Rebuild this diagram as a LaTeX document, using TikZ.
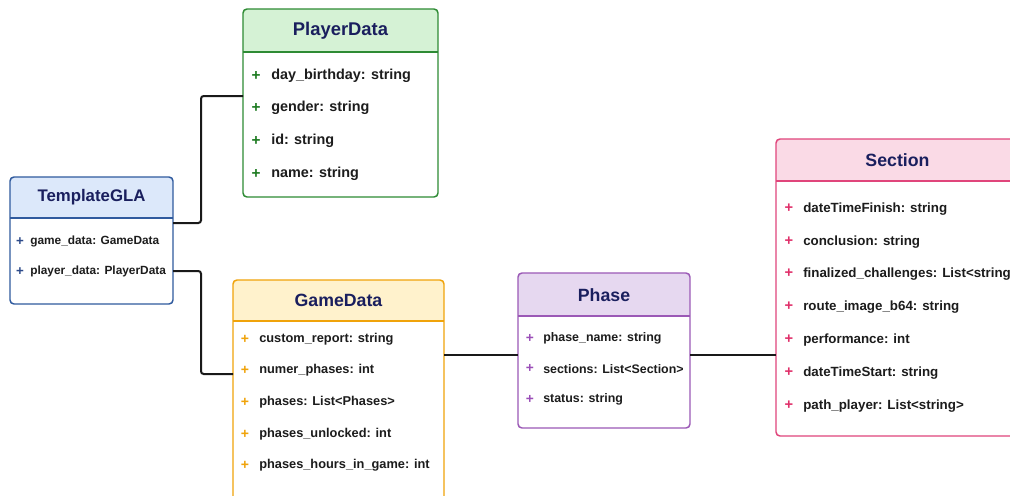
\documentclass[tikz,border=0pt]{standalone}
\usepackage{fontspec}
\setmainfont{Liberation Sans}
\definecolor{tgline}{HTML}{2F5A9E}\definecolor{tgfill}{HTML}{DCE8FA}\definecolor{tgplus}{HTML}{2C4A8A}
\definecolor{pdline}{HTML}{2E8B34}\definecolor{pdfill}{HTML}{D5F2D5}\definecolor{pdplus}{HTML}{1E7B22}
\definecolor{gdline}{HTML}{F0A30A}\definecolor{gdfill}{HTML}{FFF2CC}\definecolor{gdplus}{HTML}{F0A30A}
\definecolor{phline}{HTML}{9B59B6}\definecolor{phfill}{HTML}{E6D8F0}\definecolor{phplus}{HTML}{9B4FB8}
\definecolor{seline}{HTML}{E0457B}\definecolor{sefill}{HTML}{FADAE6}\definecolor{seplus}{HTML}{E0306A}
\definecolor{titlecol}{HTML}{1A1F5E}\definecolor{rowcol}{HTML}{1C1C1C}
\tikzset{
  holder/.style={inner sep=0pt, outer sep=0pt, anchor=north west},
  border/.style={line width=1.1pt, rounded corners=3pt},
  sep/.style={line width=1.1pt},
  title/.style={font=\bfseries\fontsize{#1}{16}\selectfont, text=titlecol, inner sep=0pt},
  title/.default=13.3,
  row/.style={font=\bfseries\fontsize{#1}{13}\selectfont, text=rowcol, anchor=west, inner sep=0pt, yshift=-1.2pt},
  row/.default=9.75,
  plus/.style={font=\bfseries\fontsize{#1}{13}\selectfont, inner sep=0pt, yshift=-1.2pt},
  plus/.default=9.75,
  conn/.style={line width=1.5pt, rounded corners=2pt, black!90},
}
\begin{document}
\begin{tikzpicture}[x=0.75pt,y=-0.75pt]
\useasboundingbox (0,0) rectangle (1010,496);
\clip (0,0) rectangle (1010,496);
\fill[white] (0,0) rectangle (1010,496);

% ---------- TemplateGLA
\node[holder, minimum width={163*0.75pt}, minimum height={127*0.75pt}] (tg) at (10,177) {};
\begin{scope}\clip[rounded corners=3pt] (tg.north west) rectangle (tg.south east);
\fill[white] (tg.north west) rectangle (tg.south east);
\fill[tgfill] (tg.north west) rectangle (173,218);\end{scope}
\draw[sep, tgline] (tg.west |- 0,218) -- (tg.east |- 0,218);
\draw[border, tgline] (tg.north west) rectangle (tg.south east);
\node[title=12.6] (tgt) at (91.5,197) {TemplateGLA};
\node[plus=10, text=tgplus] (tgp1) at (20,240) {+};
\node[row=8.9] (tgr1) at (30,240) {game\_data: GameData};
\node[plus=10, text=tgplus] (tgp2) at (20,270) {+};
\node[row=8.9] (tgr2) at (30,270) {player\_data: PlayerData};

% ---------- PlayerData
\node[holder, minimum width={195*0.75pt}, minimum height={188*0.75pt}] (pd) at (243,9) {};
\begin{scope}\clip[rounded corners=3pt] (pd.north west) rectangle (pd.south east);
\fill[white] (pd.north west) rectangle (pd.south east);
\fill[pdfill] (pd.north west) rectangle (438,52);\end{scope}
\draw[sep, pdline] (pd.west |- 0,52) -- (pd.east |- 0,52);
\draw[border, pdline] (pd.north west) rectangle (pd.south east);
\node[title=13.8] (pdt) at (340.5,31) {PlayerData};
\node[plus=11.5, text=pdplus] (pdp1) at (256,74) {+};
\node[row=10.8] (pdr1) at (271,74) {day\_birthday: string};
\node[plus=11.5, text=pdplus] (pdp2) at (256,106) {+};
\node[row=10.8] (pdr2) at (271,106) {gender: string};
\node[plus=11.5, text=pdplus] (pdp3) at (256,139) {+};
\node[row=10.8] (pdr3) at (271,139) {id: string};
\node[plus=11.5, text=pdplus] (pdp4) at (256,172) {+};
\node[row=10.8] (pdr4) at (271,172) {name: string};

% ---------- GameData
\node[holder, minimum width={211*0.75pt}, minimum height={240*0.75pt}] (gd) at (233,280) {};
\begin{scope}\clip[rounded corners=3pt] (gd.north west) rectangle (gd.south east);
\fill[white] (gd.north west) rectangle (gd.south east);
\fill[gdfill] (gd.north west) rectangle (444,321);\end{scope}
\draw[sep, gdline] (gd.west |- 0,321) -- (gd.east |- 0,321);
\draw[border, gdline] (gd.north west) rectangle (gd.south east);
\node[title] (gdt) at (338.5,300) {GameData};
\node[plus=10.5, text=gdplus] (gdp1) at (245,338) {+};
\node[row=9.6] (gdr1) at (259,338) {custom\_report: string};
\node[plus=10.5, text=gdplus] (gdp2) at (245,369) {+};
\node[row=9.6] (gdr2) at (259,369) {numer\_phases: int};
\node[plus=10.5, text=gdplus] (gdp3) at (245,401) {+};
\node[row=9.6] (gdr3) at (259,401) {phases: List<Phases>};
\node[plus=10.5, text=gdplus] (gdp4) at (245,433) {+};
\node[row=9.6] (gdr4) at (259,433) {phases\_unlocked: int};
\node[plus=10.5, text=gdplus] (gdp5) at (245,464) {+};
\node[row=9.6] (gdr5) at (259,464) {phases\_hours\_in\_game: int};

% ---------- Phase
\node[holder, minimum width={172*0.75pt}, minimum height={155*0.75pt}] (ph) at (518,273) {};
\begin{scope}\clip[rounded corners=3pt] (ph.north west) rectangle (ph.south east);
\fill[white] (ph.north west) rectangle (ph.south east);
\fill[phfill] (ph.north west) rectangle (690,316);\end{scope}
\draw[sep, phline] (ph.west |- 0,316) -- (ph.east |- 0,316);
\draw[border, phline] (ph.north west) rectangle (ph.south east);
\node[title] (pht) at (604,295) {Phase};
\node[plus=10.3, text=phplus] (php1) at (530,337) {+};
\node[row=9.3] (phr1) at (543,337) {phase\_name: string};
\node[plus=10.3, text=phplus] (php2) at (530,367) {+};
\node[row=9.3] (phr2) at (543,367) {sections: List<Section>};
\node[plus=10.3, text=phplus] (php3) at (530,398) {+};
\node[row=9.3] (phr3) at (543,398) {status: string};

% ---------- Section
\node[holder, minimum width={243*0.75pt}, minimum height={297*0.75pt}] (se) at (776,139) {};
\begin{scope}\clip[rounded corners=3pt] (se.north west) rectangle (se.south east);
\fill[white] (se.north west) rectangle (se.south east);
\fill[sefill] (se.north west) rectangle (1019,181);\end{scope}
\draw[sep, seline] (se.west |- 0,181) -- (se.east |- 0,181);
\draw[border, seline] (se.north west) rectangle (se.south east);
\node[title] (set) at (897.5,160) {Section};
\node[plus=11, text=seplus] (sep1) at (789,207) {+};
\node[row=10] (ser1) at (803,207) {dateTimeFinish: string};
\node[plus=11, text=seplus] (sep2) at (789,240) {+};
\node[row=10] (ser2) at (803,240) {conclusion: string};
\node[plus=11, text=seplus] (sep3) at (789,272) {+};
\node[row=10] (ser3) at (803,272) {finalized\_challenges: List<string>};
\node[plus=11, text=seplus] (sep4) at (789,305) {+};
\node[row=10] (ser4) at (803,305) {route\_image\_b64: string};
\node[plus=11, text=seplus] (sep5) at (789,338) {+};
\node[row=10] (ser5) at (803,338) {performance: int};
\node[plus=11, text=seplus] (sep6) at (789,371) {+};
\node[row=10] (ser6) at (803,371) {dateTimeStart: string};
\node[plus=11, text=seplus] (sep7) at (789,404) {+};
\node[row=10] (ser7) at (803,404) {path\_player: List<string>};

% ---------- connectors
\coordinate (a1) at (201,223);
\coordinate (a2) at (201,96);
\coordinate (b1) at (201,271);
\coordinate (b2) at (201,374);
\coordinate (m) at (0,355);
\draw[conn] (tg.east |- a1) -- (a1) -- (a2) -- (pd.west |- a2);
\draw[conn] (tg.east |- b1) -- (b1) -- (b2) -- (gd.west |- b2);
\draw[conn, rounded corners=0pt] (gd.east |- m) -- (ph.west |- m);
\draw[conn, rounded corners=0pt] (ph.east |- m) -- (se.west |- m);
\end{tikzpicture}
\end{document}
